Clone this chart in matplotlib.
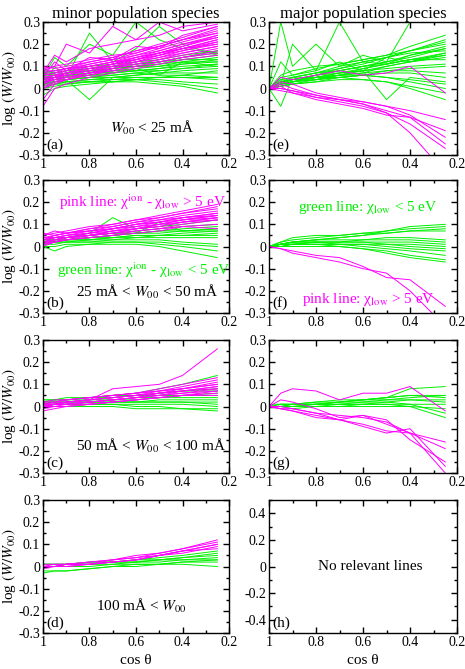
import matplotlib
matplotlib.use('Agg')
import matplotlib.pyplot as plt
from matplotlib.ticker import MultipleLocator, FuncFormatter

plt.rcParams['font.family'] = ['Liberation Serif', 'DejaVu Serif']
plt.rcParams['mathtext.fontset'] = 'stix'

GREEN = '#00f000'
PINK = '#ff00ff'

# cos(theta) points shared by every curve
mu = [1.0, 0.95, 0.9, 0.8, 0.7, 0.6, 0.5, 0.4, 0.25]

# (a) minor species, W00 < 25 mA
a_green = [
    [0.02, 0.03, 0.04, 0.05, 0.06, 0.07, 0.08, 0.09, 0.10],
    [0.05, 0.05, 0.06, 0.06, 0.07, 0.08, 0.08, 0.09, 0.11],
    [0.00, 0.01, 0.02, 0.03, 0.03, 0.04, 0.04, 0.03, 0.02],
    [0.03, 0.04, 0.05, 0.06, 0.08, 0.09, 0.10, 0.12, 0.14],
    [0.07, 0.06, 0.07, 0.08, 0.09, 0.10, 0.11, 0.13, 0.15],
    [0.01, 0.02, 0.02, 0.03, 0.03, 0.03, 0.02, 0.01, -0.02],
    [0.04, 0.05, 0.05, 0.07, 0.08, 0.10, 0.12, 0.14, 0.17],
    [0.02, 0.03, 0.04, -0.05, 0.05, 0.06, 0.07, 0.08, 0.09],
    [0.06, 0.07, 0.08, 0.09, 0.10, 0.11, 0.12, 0.13, 0.13],
    [0.03, 0.03, 0.04, 0.05, 0.05, 0.05, 0.05, 0.05, 0.04],
    [0.05, 0.14, 0.10, 0.20, 0.15, 0.30, 0.22, 0.18, 0.16],
    [0.00, 0.02, 0.03, 0.04, 0.05, 0.06, 0.07, 0.07, 0.07],
    [0.08, 0.07, 0.08, 0.09, 0.10, 0.10, 0.11, 0.12, 0.12],
    [0.03, 0.04, 0.04, 0.05, 0.07, 0.08, 0.09, 0.11, 0.12],
    [0.01, 0.10, 0.05, 0.25, 0.12, 0.18, 0.28, 0.20, 0.15],
    [0.04, 0.04, 0.05, 0.06, 0.06, 0.07, 0.06, 0.06, 0.05],
    [0.06, 0.06, 0.07, 0.08, 0.09, 0.11, 0.12, 0.14, 0.16],
    [0.02, 0.02, 0.03, 0.03, 0.04, 0.04, 0.03, 0.02, 0.00],
    [0.03, 0.05, 0.06, 0.07, 0.08, 0.08, 0.09, 0.10, 0.11],
    [0.05, 0.05, 0.06, 0.07, 0.09, 0.10, 0.10, 0.11, 0.13],
    [-0.03, 0.00, 0.01, 0.02, 0.03, 0.04, 0.05, 0.06, 0.08],
    [0.04, 0.06, 0.07, 0.08, 0.07, 0.09, 0.06, 0.12, 0.10],
    [0.07, 0.08, 0.09, 0.10, 0.11, 0.12, 0.13, 0.15, 0.17],
    [0.02, 0.03, 0.03, 0.04, 0.04, 0.05, 0.05, 0.05, 0.05],
]
a_pink = [
    [0.02, 0.04, 0.05, 0.07, 0.09, 0.11, 0.13, 0.15, 0.18],
    [0.05, 0.06, 0.07, 0.09, 0.11, 0.13, 0.16, 0.18, 0.22],
    [0.08, 0.08, 0.09, 0.11, 0.13, 0.15, 0.18, 0.21, 0.25],
    [0.00, 0.03, 0.04, 0.06, 0.08, 0.10, 0.12, 0.14, 0.16],
    [0.10, 0.09, 0.10, 0.12, 0.14, 0.17, 0.20, 0.23, 0.28],
    [0.04, 0.05, 0.06, 0.08, 0.10, 0.12, 0.14, 0.17, 0.20],
    [-0.08, 0.00, 0.02, 0.05, 0.07, 0.09, 0.11, 0.13, 0.15],
    [0.06, 0.07, 0.08, 0.10, 0.12, 0.14, 0.17, 0.20, 0.24],
    [0.03, 0.05, 0.06, 0.08, 0.10, 0.12, 0.15, 0.17, 0.21],
    [0.07, 0.15, 0.12, 0.18, 0.20, 0.22, 0.24, 0.28, 0.30],
    [0.09, 0.10, 0.11, 0.13, 0.15, 0.16, 0.19, 0.22, 0.26],
    [0.01, 0.03, 0.05, 0.07, 0.09, 0.12, 0.14, 0.16, 0.19],
    [0.05, 0.06, 0.06, 0.09, 0.11, 0.14, 0.16, 0.19, 0.23],
    [0.02, 0.05, 0.07, 0.10, 0.12, 0.15, 0.17, 0.20, 0.23],
    [-0.05, 0.02, 0.04, 0.07, 0.10, 0.13, 0.15, 0.18, 0.21],
    [0.08, 0.10, 0.20, 0.16, 0.28, 0.22, 0.30, 0.26, 0.29],
    [0.04, 0.06, 0.08, 0.11, 0.13, 0.16, 0.19, 0.22, 0.27],
    [0.03, 0.04, 0.05, 0.07, 0.08, 0.10, 0.12, 0.14, 0.17],
    [0.06, 0.07, 0.09, 0.12, 0.14, 0.17, 0.19, 0.22, 0.25],
    [0.00, 0.02, 0.04, 0.06, 0.09, 0.11, 0.13, 0.16, 0.19],
    [0.07, 0.08, 0.09, 0.10, 0.12, 0.13, 0.15, 0.18, 0.20],
    [0.05, 0.12, 0.08, 0.14, 0.13, 0.19, 0.18, 0.24, 0.28],
    [0.02, 0.04, 0.06, 0.08, 0.11, 0.13, 0.16, 0.18, 0.22],
    [0.04, 0.05, 0.07, 0.09, 0.11, 0.14, 0.16, 0.19, 0.24],
]

# (b) minor species, 25 < W00 < 50 mA
b_green = [
    [0.02, 0.02, 0.03, 0.03, 0.04, 0.05, 0.05, 0.06, 0.07],
    [0.01, 0.01, 0.02, 0.02, 0.03, 0.03, 0.03, 0.02, 0.01],
    [0.03, 0.03, 0.04, 0.05, 0.06, 0.07, 0.08, 0.09, 0.10],
    [0.00, -0.02, 0.00, 0.01, 0.02, 0.02, 0.01, 0.00, -0.02],
    [0.02, 0.03, 0.04, 0.06, 0.13, 0.08, 0.09, 0.10, 0.12],
    [0.01, 0.02, 0.02, 0.03, 0.03, 0.04, 0.04, 0.04, 0.04],
    [0.03, 0.03, 0.03, 0.04, 0.05, 0.06, 0.07, 0.08, 0.09],
    [0.00, 0.00, 0.01, 0.01, 0.01, 0.01, 0.00, -0.02, -0.05],
    [0.02, 0.02, 0.03, 0.04, 0.05, 0.06, 0.11, 0.07, 0.08],
    [0.01, 0.02, 0.03, 0.03, 0.04, 0.04, 0.05, 0.05, 0.06],
    [0.03, 0.04, 0.04, 0.05, 0.06, 0.06, 0.07, 0.07, 0.07],
    [0.02, 0.02, 0.02, 0.02, 0.02, 0.02, 0.02, 0.01, 0.00],
    [0.01, 0.02, 0.03, 0.04, 0.05, 0.06, 0.06, 0.07, 0.08],
    [0.02, 0.03, 0.03, 0.04, 0.04, 0.05, 0.05, 0.05, 0.05],
]
b_pink = [
    [0.02, 0.03, 0.04, 0.05, 0.06, 0.08, 0.09, 0.11, 0.13],
    [0.03, 0.04, 0.05, 0.06, 0.08, 0.10, 0.11, 0.13, 0.15],
    [0.01, 0.02, 0.03, 0.04, 0.05, 0.06, 0.07, 0.09, 0.10],
    [0.04, 0.05, 0.06, 0.07, 0.09, 0.11, 0.13, 0.15, 0.18],
    [0.02, 0.03, 0.04, 0.05, 0.07, 0.08, 0.10, 0.12, 0.14],
    [0.05, 0.07, 0.06, 0.08, 0.09, 0.11, 0.12, 0.14, 0.16],
    [0.00, 0.02, 0.03, 0.04, 0.05, 0.07, 0.08, 0.10, 0.12],
    [0.03, 0.04, 0.04, 0.06, 0.07, 0.09, 0.10, 0.12, 0.14],
    [0.06, 0.05, 0.06, 0.08, 0.10, 0.12, 0.14, 0.16, 0.19],
    [0.01, 0.03, 0.04, 0.05, 0.06, 0.07, 0.08, 0.09, 0.08],
    [0.02, 0.04, 0.05, 0.06, 0.08, 0.09, 0.11, 0.13, 0.15],
    [0.04, 0.04, 0.05, 0.07, 0.08, 0.10, 0.12, 0.13, 0.14],
    [0.03, 0.05, 0.06, 0.07, 0.08, 0.10, 0.11, 0.12, 0.13],
    [0.02, 0.02, 0.03, 0.05, 0.06, 0.08, 0.09, 0.11, 0.12],
    [0.05, 0.06, 0.07, 0.09, 0.10, 0.12, 0.13, 0.15, 0.17],
    [0.01, 0.02, 0.04, 0.05, 0.07, 0.08, 0.10, 0.11, 0.13],
]

# (c) minor species, 50 < W00 < 100 mA
c_green = [
    [0.02, 0.02, 0.02, 0.02, 0.02, 0.02, 0.02, 0.02, 0.01],
    [0.01, 0.01, 0.01, 0.01, 0.01, 0.00, 0.00, -0.01, -0.02],
    [0.02, 0.03, 0.03, 0.04, 0.05, 0.06, 0.08, 0.10, 0.14],
    [0.01, 0.01, 0.02, 0.02, 0.03, 0.03, 0.04, 0.05, 0.06],
    [0.03, 0.03, 0.03, 0.04, 0.04, 0.05, 0.05, 0.05, 0.05],
    [0.00, 0.00, 0.00, 0.01, 0.01, 0.01, 0.01, 0.01, 0.00],
    [0.02, 0.02, 0.02, 0.03, 0.03, 0.04, 0.04, 0.04, 0.04],
    [0.01, 0.01, 0.01, 0.02, 0.02, 0.02, 0.03, 0.03, 0.03],
    [0.02, 0.02, 0.03, 0.03, 0.04, 0.05, 0.06, 0.07, 0.08],
    [0.00, 0.01, 0.01, 0.01, 0.02, 0.02, 0.02, 0.02, 0.02],
    [0.03, 0.03, 0.04, 0.04, 0.05, 0.05, 0.06, 0.07, 0.07],
    [0.01, 0.00, 0.00, 0.00, 0.00, -0.01, -0.01, -0.01, -0.01],
]
c_pink = [
    [0.00, 0.01, 0.01, 0.02, 0.03, 0.04, 0.05, 0.07, 0.09],
    [0.01, 0.01, 0.02, 0.03, 0.04, 0.05, 0.07, 0.08, 0.11],
    [-0.01, 0.00, 0.00, 0.01, 0.02, 0.03, 0.04, 0.05, 0.06],
    [0.00, 0.01, 0.02, 0.03, 0.04, 0.05, 0.06, 0.08, 0.10],
    [0.02, 0.02, 0.03, 0.04, 0.05, 0.06, 0.07, 0.09, 0.12],
    [0.00, 0.00, 0.01, 0.01, 0.02, 0.03, 0.04, 0.05, 0.07],
    [0.01, 0.01, 0.02, 0.03, 0.08, 0.09, 0.10, 0.14, 0.26],
    [0.00, 0.01, 0.01, 0.02, 0.03, 0.04, 0.06, 0.07, 0.08],
    [0.01, 0.02, 0.02, 0.03, 0.04, 0.05, 0.06, 0.07, 0.09],
    [-0.02, -0.01, 0.00, 0.01, 0.02, 0.03, 0.04, 0.05, 0.05],
    [0.01, 0.02, 0.03, 0.04, 0.05, 0.06, 0.08, 0.10, 0.13],
    [0.00, 0.01, 0.01, 0.02, 0.03, 0.04, 0.05, 0.06, 0.08],
    [0.02, 0.03, 0.03, 0.04, 0.05, 0.06, 0.07, 0.08, 0.10],
    [0.01, 0.01, 0.02, 0.02, 0.03, 0.04, 0.05, 0.06, 0.07],
]

# (d) minor species, W00 > 100 mA
d_green = [
    [0.01, 0.01, 0.01, 0.01, 0.02, 0.02, 0.03, 0.04, 0.05],
    [-0.02, -0.02, -0.02, -0.01, 0.00, 0.01, 0.01, 0.02, 0.02],
    [0.00, 0.00, 0.00, 0.00, 0.01, 0.01, 0.01, 0.01, 0.00],
    [0.01, 0.01, 0.01, 0.02, 0.02, 0.03, 0.04, 0.05, 0.07],
    [0.00, 0.00, 0.01, 0.01, 0.01, 0.02, 0.02, 0.03, 0.04],
    [-0.03, -0.02, -0.02, -0.01, 0.00, 0.00, 0.01, 0.02, 0.03],
    [0.01, 0.01, 0.01, 0.02, 0.02, 0.02, 0.03, 0.03, 0.03],
    [0.00, 0.00, 0.01, 0.01, 0.02, 0.03, 0.03, 0.04, 0.06],
]
d_pink = [
    [0.00, 0.00, 0.01, 0.01, 0.02, 0.03, 0.05, 0.07, 0.10],
    [0.00, 0.01, 0.01, 0.02, 0.03, 0.04, 0.06, 0.08, 0.12],
    [-0.01, 0.00, 0.00, 0.01, 0.02, 0.03, 0.05, 0.06, 0.09],
    [0.00, 0.00, 0.01, 0.01, 0.03, 0.05, 0.06, 0.08, 0.11],
    [0.01, 0.01, 0.01, 0.02, 0.03, 0.04, 0.05, 0.07, 0.08],
    [0.00, 0.00, 0.00, 0.01, 0.02, 0.03, 0.05, 0.07, 0.10],
]

# (e) major species, W00 < 25 mA
e_green = [
    [0.00, 0.03, 0.04, 0.06, 0.08, 0.10, 0.12, 0.14, 0.18],
    [0.00, 0.02, 0.03, 0.05, 0.07, 0.08, 0.10, 0.12, 0.15],
    [0.00, 0.04, 0.05, 0.07, 0.09, 0.11, 0.14, 0.17, 0.22],
    [0.00, 0.01, 0.02, 0.04, 0.05, 0.06, 0.07, 0.07, 0.05],
    [0.00, 0.02, 0.03, 0.05, 0.06, 0.07, 0.08, 0.08, 0.07],
    [0.00, -0.08, 0.05, 0.04, 0.06, 0.09, 0.11, 0.13, 0.16],
    [0.00, 0.30, 0.10, 0.20, 0.10, 0.15, 0.12, 0.30, 0.30],
    [0.00, 0.02, 0.04, 0.06, 0.09, 0.12, 0.14, 0.17, 0.20],
    [0.00, 0.01, 0.02, 0.03, 0.04, 0.04, 0.03, 0.01, -0.02],
    [0.00, 0.03, 0.04, 0.05, 0.06, 0.06, 0.05, 0.03, 0.00],
    [0.00, 0.02, 0.03, 0.04, 0.05, 0.04, 0.03, 0.00, -0.05],
    [0.00, 0.05, 0.06, 0.09, 0.11, 0.13, 0.15, 0.19, 0.24],
    [0.00, 0.02, 0.03, 0.06, 0.08, 0.10, 0.12, 0.15, 0.19],
    [0.00, 0.12, 0.06, 0.08, 0.12, 0.08, 0.14, 0.12, 0.16],
    [0.00, 0.03, 0.04, 0.06, 0.07, 0.09, 0.11, 0.13, 0.13],
    [0.00, 0.01, 0.02, 0.03, 0.05, 0.06, 0.08, 0.09, 0.10],
    [0.00, 0.04, 0.05, 0.07, 0.10, 0.12, 0.14, 0.16, 0.17],
    [0.00, 0.02, 0.04, 0.05, 0.07, 0.08, 0.09, 0.10, 0.11],
    [0.00, 0.03, 0.04, 0.05, 0.05, 0.06, 0.05, 0.04, 0.02],
    [0.00, 0.06, 0.08, 0.10, 0.11, 0.13, 0.15, 0.17, 0.21],
    [0.00, 0.01, 0.03, 0.05, 0.06, 0.08, -0.05, 0.05, 0.03],
    [0.00, 0.02, 0.03, 0.04, 0.06, 0.07, 0.10, 0.12, 0.14],
    [0.00, 0.02, 0.20, 0.08, 0.30, 0.12, 0.11, 0.15, 0.18],
    [0.00, 0.03, 0.05, 0.07, 0.08, 0.10, 0.11, 0.13, 0.15],
]
e_pink = [
    [0.00, 0.05, 0.04, 0.06, 0.08, 0.06, 0.07, 0.10, -0.02],
    [0.00, 0.02, 0.00, -0.03, -0.05, -0.06, -0.08, -0.10, -0.14],
    [0.00, 0.00, -0.01, -0.04, -0.05, -0.07, -0.10, -0.13, -0.19],
    [0.00, -0.01, -0.02, -0.05, -0.07, -0.09, -0.12, -0.13, -0.25],
    [0.00, 0.01, -0.02, -0.04, -0.06, -0.08, -0.11, -0.16, -0.27],
    [0.00, 0.00, -0.01, -0.03, -0.05, -0.07, -0.11, -0.20, -0.38],
    [0.00, 0.03, 0.02, -0.02, -0.04, -0.06, -0.08, -0.12, -0.22],
]

# (f) major species, 25 < W00 < 50 mA
f_green = [
    [0.00, 0.02, 0.03, 0.04, 0.05, 0.06, 0.07, 0.09, 0.10],
    [0.00, 0.01, 0.02, 0.03, 0.04, 0.05, 0.07, 0.08, 0.09],
    [0.00, 0.01, 0.02, 0.03, 0.04, 0.05, 0.06, 0.07, 0.08],
    [0.00, 0.02, 0.04, 0.05, 0.05, 0.06, 0.06, 0.07, 0.07],
    [0.00, 0.01, 0.02, 0.03, 0.03, 0.03, 0.04, 0.04, 0.03],
    [0.00, 0.01, 0.01, 0.02, 0.02, 0.03, 0.03, 0.03, 0.02],
    [0.00, 0.01, 0.02, 0.02, 0.02, 0.02, 0.02, 0.02, 0.01],
    [0.00, 0.00, 0.01, 0.01, 0.01, 0.01, 0.01, 0.01, 0.00],
    [0.00, 0.01, 0.01, 0.02, 0.02, 0.02, 0.01, 0.00, -0.01],
    [0.00, 0.00, 0.01, 0.01, 0.01, 0.01, 0.00, -0.01, -0.02],
    [0.00, 0.01, 0.02, 0.02, 0.01, 0.00, -0.01, -0.02, -0.04],
    [0.00, 0.00, 0.00, 0.00, 0.00, -0.01, -0.02, -0.04, -0.06],
    [0.00, 0.01, 0.01, 0.01, 0.00, -0.01, -0.03, -0.05, -0.07],
]
f_pink = [
    [0.00, -0.01, -0.02, -0.04, -0.05, -0.09, -0.14, -0.15, -0.27],
    [0.00, -0.01, -0.03, -0.05, -0.07, -0.10, -0.12, -0.20, -0.36],
]

# (g) major species, 50 < W00 < 100 mA
g_green = [
    [0.00, 0.00, 0.01, 0.01, 0.02, 0.03, 0.04, 0.08, 0.09],
    [0.00, 0.01, 0.01, 0.02, 0.03, 0.03, 0.04, 0.05, 0.05],
    [0.00, 0.00, 0.01, 0.01, 0.02, 0.03, 0.04, 0.05, 0.04],
    [0.00, 0.00, 0.00, 0.01, 0.01, 0.02, 0.02, 0.03, 0.02],
    [0.00, 0.01, 0.01, 0.01, 0.02, 0.02, 0.03, 0.04, 0.05],
    [0.00, 0.00, 0.00, 0.00, 0.01, 0.01, 0.01, 0.01, 0.01],
    [0.00, 0.00, 0.00, 0.00, 0.00, 0.00, 0.00, 0.00, -0.01],
    [0.00, 0.00, 0.00, 0.01, 0.01, 0.01, 0.02, 0.01, -0.03],
    [0.00, 0.00, -0.01, 0.00, 0.00, 0.01, 0.01, 0.00, -0.05],
    [0.01, 0.01, 0.01, 0.02, 0.02, 0.03, 0.03, 0.03, 0.03],
]
g_pink = [
    [0.00, 0.06, 0.08, 0.07, 0.03, 0.06, 0.06, 0.09, -0.02],
    [0.00, -0.01, -0.02, -0.04, -0.06, -0.08, -0.11, -0.12, -0.16],
    [0.00, 0.03, 0.02, -0.01, -0.05, -0.04, -0.08, -0.12, -0.19],
    [0.00, -0.01, -0.02, -0.05, -0.06, -0.09, -0.12, -0.10, -0.27],
    [0.00, -0.01, -0.01, -0.03, -0.06, -0.04, -0.06, -0.15, -0.25],
    [0.00, 0.00, -0.01, -0.03, -0.04, -0.05, -0.07, -0.12, -0.30],
]

panel_tags = ['(a)', '(b)', '(c)', '(d)', '(e)', '(f)', '(g)', '(h)']
left_data = [(a_green, a_pink), (b_green, b_pink), (c_green, c_pink), (d_green, d_pink)]
right_data = [(e_green, e_pink), (f_green, f_pink), (g_green, g_pink), ([], [])]

fig = plt.figure(figsize=(4.65, 6.69), dpi=100)
W, H = 465.0, 669.0
row_bottoms = [155, 313, 473, 633]
axh = 133
col_lefts = [(43, 186), (269, 188)]

yfmt = FuncFormatter(lambda v, _: '0' if abs(v) < 1e-9 else '%.1f' % v)
xfmt = FuncFormatter(lambda v, _: '1' if abs(v - 1) < 1e-9 else '%.1f' % v)

axes = {}
for c, (x0, w) in enumerate(col_lefts):
    for r, yb in enumerate(row_bottoms):
        ax = fig.add_axes([x0 / W, 1 - yb / H, w / W, axh / H])
        axes[(c, r)] = ax
        green, pink = (left_data if c == 0 else right_data)[r]
        for ys in green:
            ax.plot(mu, ys, color=GREEN, lw=0.7)
        for ys in pink:
            ax.plot(mu, ys, color=PINK, lw=0.7)
        ax.set_xlim(1, 0.2)
        if c == 1 and r == 3:
            ax.set_ylim(-0.5, 0.5)
            ax.yaxis.set_major_locator(MultipleLocator(0.2))
            ax.yaxis.set_minor_locator(MultipleLocator(0.1))
        else:
            ax.set_ylim(-0.3, 0.3)
            ax.yaxis.set_major_locator(MultipleLocator(0.1))
            ax.yaxis.set_minor_locator(MultipleLocator(0.05))
        ax.xaxis.set_major_locator(MultipleLocator(0.2))
        ax.xaxis.set_minor_locator(MultipleLocator(0.1))
        ax.yaxis.set_major_formatter(yfmt)
        ax.xaxis.set_major_formatter(xfmt)
        ax.tick_params(which='both', direction='in', top=True, right=True,
                       labelsize=10, width=1.0, pad=2)
        ax.tick_params(which='major', length=4.5)
        ax.tick_params(which='minor', length=2.5)
        for s in ax.spines.values():
            s.set_linewidth(1.0)
        ax.text(0.985, -0.255 if not (c == 1 and r == 3) else -0.43,
                panel_tags[c * 4 + r], fontsize=11, ha='left', va='center')
        if c == 0:
            ax.set_ylabel(r'log $(W/W_{00})$', fontsize=11, labelpad=0)

axes[(0, 0)].set_title('minor population species', fontsize=12, pad=3)
axes[(1, 0)].set_title('major population species', fontsize=12, pad=3)
axes[(0, 3)].set_xlabel('cos θ', fontsize=11, labelpad=4)
axes[(1, 3)].set_xlabel('cos θ', fontsize=11, labelpad=4)

axes[(0, 0)].text(0.53, -0.18, r'$W_{00}$ < 25 mÅ', fontsize=11, ha='center', va='center')
axes[(0, 1)].text(0.93, 0.2, r'pink line: χ$^{\rm ion}$ - χ$_{\rm low}$ > 5 eV',
                  fontsize=11, color=PINK, ha='left', va='center')
axes[(0, 1)].text(0.94, -0.105, r'green line: χ$^{\rm ion}$ - χ$_{\rm low}$ < 5 eV',
                  fontsize=11, color=GREEN, ha='left', va='center')
axes[(0, 1)].text(0.86, -0.205, r'25 mÅ < $W_{00}$ < 50 mÅ', fontsize=11, ha='left', va='center')
axes[(0, 2)].text(0.86, -0.18, r'50 mÅ < $W_{00}$ < 100 mÅ', fontsize=11, ha='left', va='center')
axes[(0, 3)].text(0.77, -0.18, r'100 mÅ < $W_{00}$', fontsize=11, ha='left', va='center')
axes[(1, 1)].text(0.875, 0.175, r'green line: χ$_{\rm low}$ < 5 eV',
                  fontsize=11, color=GREEN, ha='left', va='center')
axes[(1, 1)].text(0.86, -0.24, r'pink line: χ$_{\rm low}$ > 5 eV',
                  fontsize=11, color=PINK, ha='left', va='center')
axes[(1, 3)].text(0.57, 0.0, 'No relevant lines', fontsize=11, ha='center', va='center')

fig.savefig('out.png', dpi=100)
